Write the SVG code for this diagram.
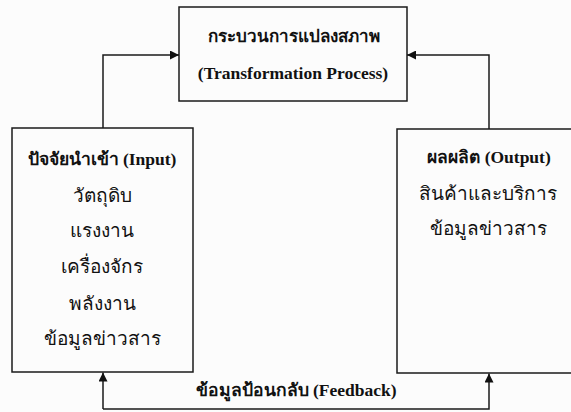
<svg xmlns="http://www.w3.org/2000/svg" width="571" height="412" viewBox="0 0 571 412">
<style>
.box{fill:none;stroke:#1a1a1a;stroke-width:1.5}
.ln{fill:none;stroke:#1a1a1a;stroke-width:1.5}
text{font-family:"Liberation Serif","DejaVu Serif","Noto Sans",serif;fill:#111;text-anchor:middle}
.b{font-weight:bold;font-size:17.5px}
.n{font-size:19px}
</style>
<defs>
<marker id="ah" viewBox="0 0 10 10" refX="10" refY="5" markerWidth="10" markerHeight="9" markerUnits="userSpaceOnUse" orient="auto">
<path d="M0,0 L10,5 L0,10 z" fill="#111"/>
</marker>
</defs>
<rect width="571" height="412" fill="#fcfcfc"/>
<g id="connectors">
<path class="ln" d="M103,128 V55 H179" marker-end="url(#ah)"/>
<path class="ln" d="M489,129 V55 H407" marker-end="url(#ah)"/>
<path class="ln" d="M103,409 H489 V373.5" marker-end="url(#ah)"/>
<path class="ln" d="M103,409 V372.5" marker-end="url(#ah)"/>
</g>
<g id="transformation">
<rect class="box" x="179" y="7" width="228" height="94"/>
<text class="b" x="294" y="42" style="font-size:17px">กระบวนการแปลงสภาพ</text>
<text class="b" x="293" y="79">(Transformation Process)</text>
</g>
<g id="input">
<rect class="box" x="12" y="128" width="181" height="244"/>
<text class="b" x="102" y="165">ปัจจัยนำเข้า (Input)</text>
<text class="n" x="102" y="202">วัตถุดิบ</text>
<text class="n" x="102" y="237">แรงงาน</text>
<text class="n" x="102" y="273">เครื่องจักร</text>
<text class="n" x="102" y="310">พลังงาน</text>
<text class="n" x="102" y="345">ข้อมูลข่าวสาร</text>
</g>
<g id="output">
<rect class="box" x="397" y="129" width="180" height="244"/>
<text class="b" x="489" y="163">ผลผลิต (Output)</text>
<text class="n" x="488" y="200">สินค้าและบริการ</text>
<text class="n" x="488" y="235">ข้อมูลข่าวสาร</text>
</g>
<g id="feedback-label">
<text class="b" x="296" y="396">ข้อมูลป้อนกลับ (Feedback)</text>
</g>
</svg>
